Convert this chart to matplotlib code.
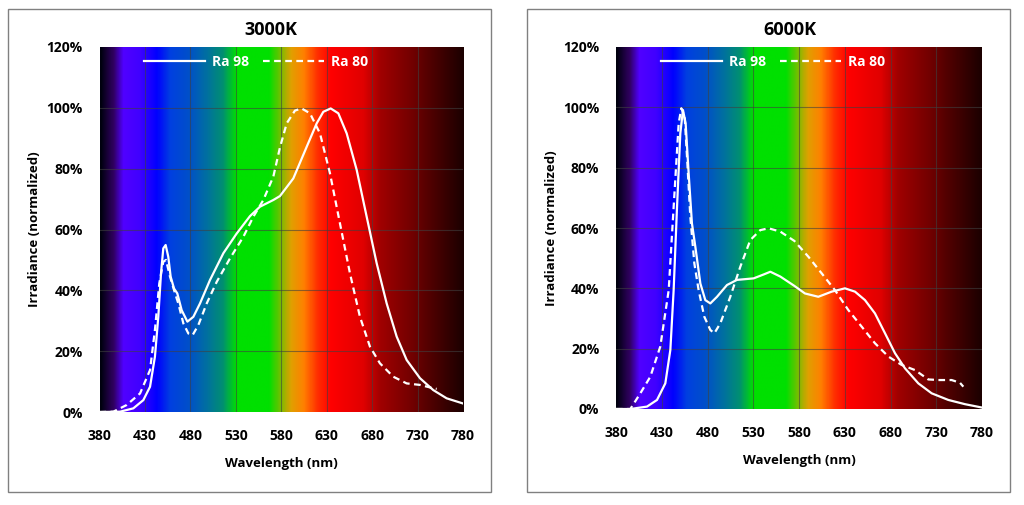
import numpy as np
import matplotlib
matplotlib.use("Agg")
import matplotlib.pyplot as plt
import matplotlib.patches as patches
from matplotlib.colors import LinearSegmentedColormap

plt.rcParams['font.family'] = ['Open Sans', 'DejaVu Sans']
plt.rcParams['font.weight'] = 'bold'

# spectrum background colour stops (nm, colour)
spec_nm = [380, 394, 405, 423, 442, 457, 478, 497, 515, 530, 566, 578, 590, 604, 619, 634, 670, 689, 725, 744, 780]
spec_col = ['#00000f', '#300060', '#5000ff', '#4000ff', '#0000ff', '#0040e0', '#0050c8', '#0070a0', '#009070',
            '#00e000', '#00e000', '#70c000', '#e0a000', '#ff8000', '#ff3000', '#ff0000', '#e00000', '#a00000',
            '#700000', '#500000', '#1c0000']

x_ticks = [380, 430, 480, 530, 580, 630, 680, 730, 780]
y_ticks = [0, 20, 40, 60, 80, 100, 120]

# 3000K
wl_3000_ra98 = [380, 402.6, 417.2, 428.2, 435.6, 441, 444.7, 447.7, 450.2, 452.8, 455.7, 458.3, 462, 465.6,
                470.4, 476.7, 483.3, 490.6, 501.6, 516.3, 531, 545.6, 556.6, 571.3, 578.6, 593.3, 608, 619,
                626.3, 634.4, 642.8, 652, 663, 674, 685, 696, 707, 718, 732.7, 747.3, 762, 780]
ir_3000_ra98 = [0, 0.1, 1.2, 3.9, 8.3, 18.2, 31.3, 45.6, 53.8, 54.9, 51, 44.5, 40.6, 39,
                33.5, 29.7, 31.3, 35.7, 43.4, 52.2, 58.7, 64.4, 67.5, 69.7, 71, 76.8, 87.2, 94.9,
                98.7, 99.8, 98.2, 91.6, 79.6, 64.2, 48.9, 35.7, 24.8, 17.1, 11.1, 7.2, 4.5, 2.8]
wl_3000_ra80 = [380, 395.2, 409.9, 424.6, 435.6, 441, 445.8, 450.2, 453.2, 457.6, 462, 466.7, 472.3, 477.8,
                482.5, 488.8, 498, 509, 523.6, 538.3, 549.3, 560.3, 571.3, 578.6, 586, 595.1, 602.4, 611.6,
                622.6, 633.6, 644.6, 655.6, 666.6, 677.6, 688.6, 703.3, 718, 732.7, 747.3, 751]
ir_3000_ra80 = [0, 0.1, 2.3, 6.1, 13.8, 27, 42.3, 49.4, 50, 44.5, 40.1, 35.7, 29.1, 25.8,
                25.3, 28.6, 35.7, 42.8, 50.5, 57.6, 64.2, 69.7, 77.4, 87, 94.9, 99.1, 99.8, 98.2,
                91.6, 78.5, 62, 45.6, 31.3, 21.5, 16, 11.6, 9.4, 8.9, 7.8, 7.6]

# 6000K
wl_6000_ra98 = [380, 395.7, 413.9, 424.8, 433.9, 439.4, 443, 446.7, 450.3, 453.2, 456.1, 459.4, 463, 466.7,
                472.2, 477.6, 483.1, 490.4, 501.3, 512.2, 530.4, 541.4, 548.7, 559.6, 575, 586.5, 601.1,
                615.7, 630.2, 641.2, 652.1, 663, 674, 684.9, 695.8, 710.4, 725, 743.2, 761.4, 779.6]
ir_6000_ra98 = [0, 0, 0.8, 3, 8.5, 19.6, 39.4, 67, 91.4, 99.1, 94.7, 78.1, 61.5, 53.8,
                41.6, 36.1, 35, 37.2, 41.1, 42.8, 43.3, 44.6, 45.5, 43.9, 40.8, 38.3, 37.2,
                38.9, 40, 38.9, 36.1, 31.7, 25.1, 18.5, 13.5, 8.5, 5.2, 3, 1.6, 0.5]
wl_6000_ra80 = [380, 395.7, 406.6, 417.5, 428.4, 437.6, 443, 448.5, 451.4, 455, 457.6, 461.2, 465.6, 470.3,
                476.5, 483.1, 487.5, 494, 504.9, 515.9, 526.8, 537.7, 546.8, 559.6, 575, 590.2, 604.7,
                619.3, 633.9, 648.5, 663, 677.6, 692.2, 706.8, 721.3, 732.3, 746.8, 755.9, 759.6]
ir_6000_ra80 = [0, 0, 5.2, 10.7, 20.7, 39.4, 67, 94.7, 99.7, 96.9, 83.7, 63.8, 48.3, 39.4,
                30.6, 26.2, 25.1, 28.4, 37.2, 47.2, 56, 59.3, 59.9, 58.8, 55.7, 50.5, 45,
                39.4, 32.8, 27.3, 21.8, 17.4, 14.6, 12.9, 9.8, 9.6, 9.6, 8.7, 7.4]

panels = [
    ("3000K", wl_3000_ra98, ir_3000_ra98, wl_3000_ra80, ir_3000_ra80),
    ("6000K", wl_6000_ra98, ir_6000_ra98, wl_6000_ra80, ir_6000_ra80),
]

W, H = 1024, 505
fig = plt.figure(figsize=(W / 100, H / 100), dpi=100)

# pixel layout: (plot left, plot right, plot top, plot bottom, frame left, frame right, title x)
layout = [
    (99.5, 463, 47, 412, 8, 491, 271),
    (616, 982, 47, 409, 527, 1010, 790),
]

pos = np.array(spec_nm, dtype=float)
cmap = LinearSegmentedColormap.from_list("spec", list(zip((pos - 380) / 400, spec_col)))
grad = np.linspace(0, 1, 800).reshape(1, -1)

for (title, wl98, ir98, wl80, ir80), (pl, pr, pt, pb, fl, fr, tx) in zip(panels, layout):
    ax = fig.add_axes([pl / W, 1 - pb / H, (pr - pl) / W, (pb - pt) / H])
    ax.imshow(grad, extent=[380, 780, 0, 120], aspect='auto', cmap=cmap, zorder=0, interpolation='bilinear')
    for xt in x_ticks[1:-1]:
        ax.axvline(xt, color='#404040', lw=0.8, alpha=0.6, zorder=1)
    for yt in y_ticks[1:-1]:
        ax.axhline(yt, color='#404040', lw=0.8, alpha=0.6, zorder=1)

    ax.plot(wl98, ir98, color='white', lw=1.6, label='Ra 98', zorder=3, solid_joinstyle='round')
    ax.plot(wl80, ir80, color='white', lw=1.6, dashes=(3, 2), label='Ra 80', zorder=3)

    ax.set_xlim(380, 780)
    ax.set_ylim(0, 120)
    ax.set_xticks(x_ticks)
    ax.set_yticks(y_ticks)
    ax.set_yticklabels([f"{v}%" for v in y_ticks])
    ax.tick_params(length=0, labelsize=10)
    ax.tick_params(axis='y', pad=12)
    ax.tick_params(axis='x', pad=12)
    for s in ax.spines.values():
        s.set_visible(False)

    ax.set_xlabel("Wavelength (nm)", fontsize=9.5, fontweight='bold', labelpad=10)
    ax.set_ylabel("Irradiance (normalized)", fontsize=9.5, fontweight='bold', labelpad=4)

    leg = ax.legend(loc='center', bbox_to_anchor=(0.43, 0.958), ncol=2, frameon=False,
                    handlelength=4.4, columnspacing=1.0, handletextpad=0.5,
                    prop={'weight': 'bold', 'size': 10})
    for t in leg.get_texts():
        t.set_color('white')

    fig.text(tx / W, 1 - 30 / H, title, ha='center', va='center', fontsize=13, fontweight='bold')

    fig.patches.append(patches.Rectangle((fl / W, 1 - 492 / H), (fr - fl) / W, 483 / H,
                                         transform=fig.transFigure, fill=False,
                                         edgecolor='#808080', lw=1))

fig.savefig("out.png", dpi=100)
